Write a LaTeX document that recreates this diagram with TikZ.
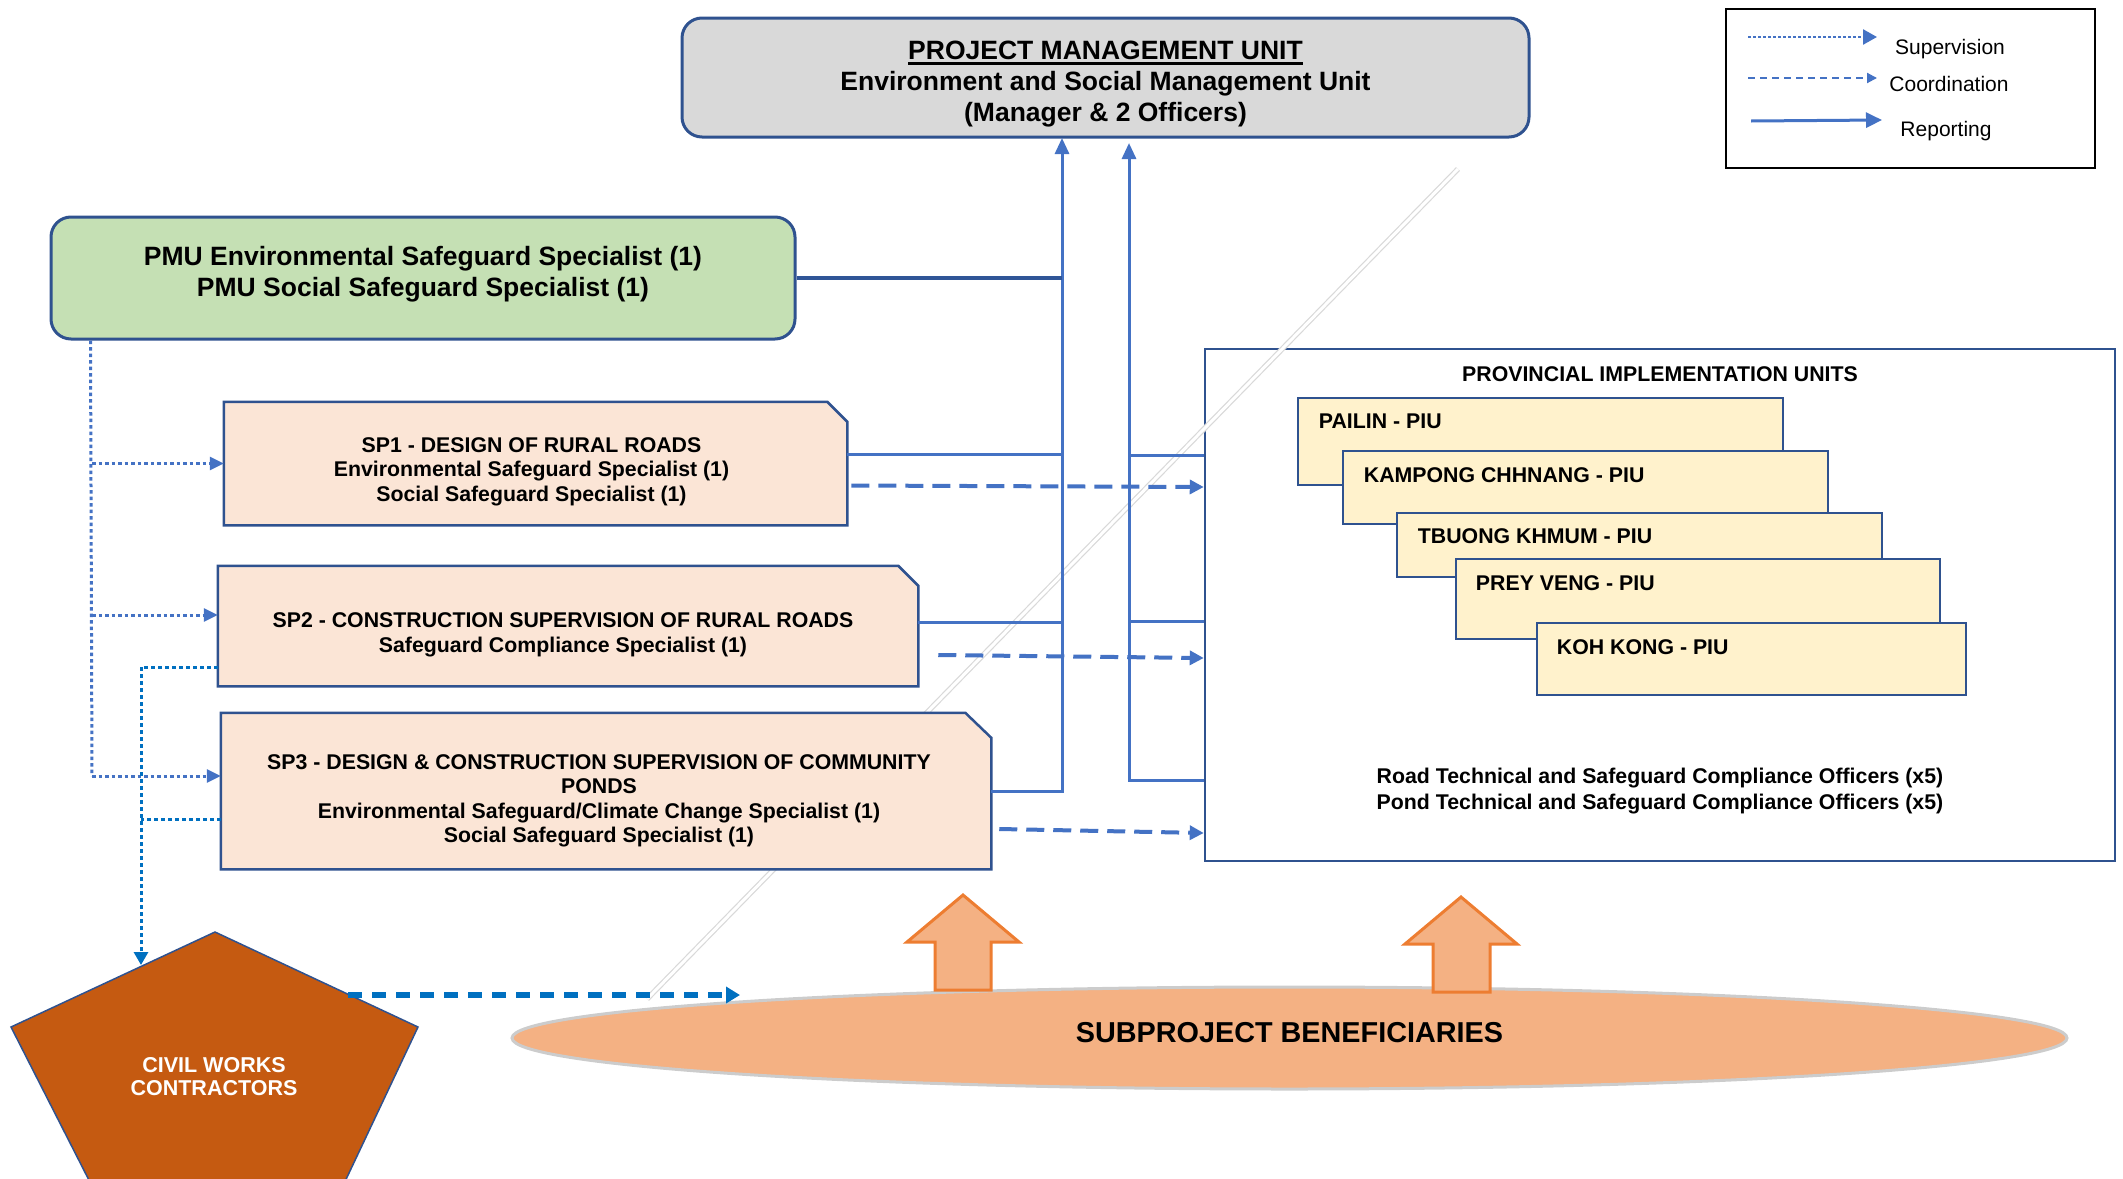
\documentclass[tikz,border=0pt]{standalone}
\usepackage{fontspec}
\setmainfont{Liberation Sans}
\usepackage{xcolor}
\usetikzlibrary{shapes.geometric,arrows.meta}

\definecolor{bordblue}{HTML}{2F528F}
\definecolor{lineblue}{HTML}{4472C4}
\definecolor{darkline}{HTML}{2F5597}
\definecolor{supblue}{HTML}{0070C0}
\definecolor{pmugray}{HTML}{D9D9D9}
\definecolor{grnfill}{HTML}{C5E0B4}
\definecolor{spfill}{HTML}{FBE5D6}
\definecolor{piufill}{HTML}{FFF2CC}
\definecolor{cwfill}{HTML}{C55A11}
\definecolor{benfill}{HTML}{F4B183}
\definecolor{arrline}{HTML}{ED7D31}

\newcommand{\thickul}[1]{\setbox0=\hbox{#1}\rlap{\copy0}\rule[-5pt]{\wd0}{2.5pt}}

\begin{document}
\begin{tikzpicture}
[x=1pt,y=-1pt,
pmub/.style={rectangle,rounded corners=20pt,draw=bordblue,fill=pmugray,line width=3pt,minimum width=847pt,minimum height=119pt},
grnb/.style={rectangle,rounded corners=20pt,draw=bordblue,fill=grnfill,line width=3pt,minimum width=744pt,minimum height=122pt},
bigt/.style={align=center,font=\bfseries\fontsize{26.5}{31}\selectfont},
spbx/.style={rectangle,inner sep=0pt,outer sep=1.25pt},
spsh/.style={draw=bordblue,fill=spfill,line width=2.5pt},
spt/.style={align=center,font=\bfseries\fontsize{21.3}{24.5}\selectfont},
piuo/.style={rectangle,draw=bordblue,fill=white,line width=2.5pt,minimum width=910pt,minimum height=512pt},
piub/.style={rectangle,draw=bordblue,fill=piufill,line width=2.5pt},
piuh/.style={font=\bfseries\fontsize{21.3}{25}\selectfont},
piut/.style={anchor=west,inner sep=0pt,font=\bfseries\fontsize{21.3}{25}\selectfont},
piuf/.style={align=center,font=\bfseries\fontsize{21.3}{26}\selectfont},
benb/.style={ellipse,draw=black!20,fill=benfill,line width=3pt,minimum width=1555pt,minimum height=102pt,inner sep=0pt},
bent/.style={font=\bfseries\fontsize{28.8}{34}\selectfont},
cwsh/.style={fill=cwfill,draw=bordblue,line width=1.5pt},
cwt/.style={text=white,align=center,font=\bfseries\fontsize{21.5}{23}\selectfont},
upar/.style={fill=benfill,draw=arrline,line width=3pt},
lgdb/.style={rectangle,draw=black,line width=2.5pt,minimum width=369pt,minimum height=159pt},
lgdt/.style={font=\fontsize{21}{25}\selectfont},
rep/.style={draw=lineblue,line width=3pt},
rept/.style={rep,-{Triangle[length=16pt,width=14pt]}},
repd/.style={draw=darkline,line width=4pt},
coo/.style={draw=lineblue,line width=4pt,dash pattern=on 18pt off 9pt,-{Triangle[length=14pt,width=14pt]}},
sup/.style={draw=lineblue,line width=3pt,dash pattern=on 3.5pt off 3pt},
supa/.style={sup,-{Triangle[length=14pt,width=13pt]}},
supb/.style={draw=supblue,line width=3pt,dash pattern=on 3.5pt off 3.5pt},
supba/.style={supb,-{Triangle[length=13pt,width=14pt]}},
cwar/.style={draw=supblue,line width=6pt,dash pattern=on 14pt off 10pt,-{Triangle[length=14pt,width=16pt]}},
ghst/.style={draw=black!15,line width=1.2pt,double,double distance=3pt}]
\useasboundingbox (0,0) rectangle (2123,1178);

% provincial units frame
\node at (1660,605) [piuo] (piu) {};
\node at (1660,374) [piuh] (piuh) {PROVINCIAL IMPLEMENTATION UNITS};
\draw[ghst] (1458,169) -- (647,999);

% top boxes
\node at (1105.5,77.5) [pmub] (pmu) {};
\node at (1105.5,84.5) [bigt] (pmut) {\thickul{PROJECT MANAGEMENT UNIT}\\Environment and Social Management Unit\\(Manager \& 2 Officers)};
\node at (423,278) [grnb] (grn) {};
\node at (423,274) [bigt] (grnt) {PMU Environmental Safeguard Specialist (1)\\PMU Social Safeguard Specialist (1)};

% legend
\node at (1910.5,88.5) [lgdb] (lgd) {};
\node at (1950,49) [lgdt] (lsup) {Supervision};
\node at (1949,84) [lgdt] (lcoo) {Coordination};
\node at (1946,131) [lgdt] (lrep) {Reporting};
\draw[sup,line width=2.5pt,dash pattern=on 2.5pt off 2.5pt,-{Triangle[length=14pt,width=15pt]}] (1748,37) -- (1877,37);
\draw[draw=lineblue,line width=2pt,dash pattern=on 7pt off 5pt,-{Triangle[length=10pt,width=10pt]}] (1748,78) -- (1877,78);
\draw[rep,-{Triangle[length=16pt,width=15pt]}] (1751,121) -- (1882,120);

% subprojects (snipped corner boxes)
\node at (535.5,463.5) [spbx,minimum width=621pt,minimum height=121pt] (sp1) {};
\draw[spsh] (sp1.south west) -- (sp1.north west) -- ([xshift=-20pt]sp1.north east) -- ([yshift=-20pt]sp1.north east) -- (sp1.south east) -- cycle;
\node at (531.5,471.5) [spt] (sp1t) {SP1 - DESIGN OF RURAL ROADS\\Environmental Safeguard Specialist (1)\\Social Safeguard Specialist (1)};
\node at (568,626) [spbx,minimum width=698pt,minimum height=118pt] (sp2) {};
\draw[spsh] (sp2.south west) -- (sp2.north west) -- ([xshift=-20pt]sp2.north east) -- ([yshift=-20pt]sp2.north east) -- (sp2.south east) -- cycle;
\node at (563,635) [spt] (sp2t) {SP2 - CONSTRUCTION SUPERVISION OF RURAL ROADS\\Safeguard Compliance Specialist (1)};
\node at (606,791) [spbx,minimum width=768pt,minimum height=154pt] (sp3) {};
\draw[spsh] (sp3.south west) -- (sp3.north west) -- ([xshift=-26pt]sp3.north east) -- ([yshift=-25pt]sp3.north east) -- (sp3.south east) -- cycle;
\node at (599,801) [spt] (sp3t) {SP3 - DESIGN \& CONSTRUCTION SUPERVISION OF COMMUNITY\\PONDS\\Environmental Safeguard/Climate Change Specialist (1)\\Social Safeguard Specialist (1)};

% PIUs
\node at (1540.5,441.5) [piub,minimum width=485pt,minimum height=87pt] (p1) {};
\node at ([xshift=22pt,yshift=-25pt]p1.north west) [piut] (p1t) {PAILIN - PIU};
\node at (1585.5,487.5) [piub,minimum width=485pt,minimum height=73pt] (p2) {};
\node at ([xshift=22pt,yshift=-25pt]p2.north west) [piut] (p2t) {KAMPONG CHHNANG - PIU};
\node at (1639.5,545) [piub,minimum width=485pt,minimum height=64pt] (p3) {};
\node at ([xshift=22pt,yshift=-24pt]p3.north west) [piut] (p3t) {TBUONG KHMUM - PIU};
\node at (1698,599) [piub,minimum width=484pt,minimum height=80pt] (p4) {};
\node at ([xshift=21pt,yshift=-25pt]p4.north west) [piut] (p4t) {PREY VENG - PIU};
\node at (1751.5,659) [piub,minimum width=429pt,minimum height=72pt] (p5) {};
\node at ([xshift=21pt,yshift=-25pt]p5.north west) [piut] (p5t) {KOH KONG - PIU};
\node at (1660,791) [piuf] (piuf) {Road Technical and Safeguard Compliance Officers (x5)\\Pond Technical and Safeguard Compliance Officers (x5)};

% beneficiaries and contractors
\node at (1289.5,1038) [benb] (ben) {};
\node at (1289.5,1033) [bent] (bent) {SUBPROJECT BENEFICIARIES};
\draw[upar] (963,895) -- (1019,942) -- (991,942) -- (991,990) -- (935,990) -- (935,942) -- (907,942) -- cycle;
\draw[upar] (1461,897) -- (1517,944) -- (1490,944) -- (1490,992) -- (1433,992) -- (1433,944) -- (1405,944) -- cycle;
\draw[cwsh] (215,932) -- (418,1027) -- (341,1190) -- (94,1190) -- (11,1027) -- cycle;
\node at (214,1077) [cwt] (cwt) {CIVIL WORKS\\CONTRACTORS};

% reporting
\coordinate (ta) at (1062,138);
\coordinate (tb) at (1129,143);
\draw[rept] (sp3.east) -| (ta);
\path ([yshift=9pt]sp1.east) coordinate (s1r);
\draw[rep] (s1r) -- (s1r -| ta);
\path ([yshift=4pt]sp2.east) coordinate (s2r);
\draw[rep] (s2r) -- (s2r -| ta);
\draw[repd] (grn.east) -- (grn.east -| ta);
\path ([yshift=-175pt]piu.west) coordinate (q3);
\draw[rept] (q3) -| (tb);
\path ([yshift=150pt]piu.west) coordinate (q1);
\draw[rep] (q1) -- (q1 -| tb);
\path ([yshift=-16pt]piu.west) coordinate (q2);
\draw[rep] (q2) -- (q2 -| tb);

% coordination
\draw[coo] ([xshift=4pt,yshift=-22pt]sp1.east) -- ([yshift=118pt]piu.west);
\draw[coo] ([xshift=20pt,yshift=-29pt]sp2.east) -- ([yshift=-53pt]piu.west);
\draw[coo] ([xshift=8pt,yshift=-38pt]sp3.east) -- ([yshift=-228pt]piu.west);
\coordinate (cwr) at (348,995);
\coordinate (bend) at (740,995);
\draw[cwar] (cwr) -- (bend);

% supervision
\coordinate (sv) at (92,776);
\draw[sup] ([xshift=41pt]grn.south west) -- (sv);
\draw[supa] (sv |- sp1.west) -- (sp1.west);
\path ([yshift=11pt]sp2.west) coordinate (s2l);
\draw[supa] (s2l -| sv) -- (s2l);
\path ([yshift=15pt]sp3.west) coordinate (s3l);
\draw[supa] (sv) -- (s3l);
\coordinate (cwp) at (141,965);
\draw[supba] ([yshift=-41pt]sp2.west) -| (cwp);
\path ([yshift=-28pt]sp3.west) coordinate (s3m);
\draw[supb] (s3m) -- (s3m -| cwp);
\end{tikzpicture}
\end{document}
